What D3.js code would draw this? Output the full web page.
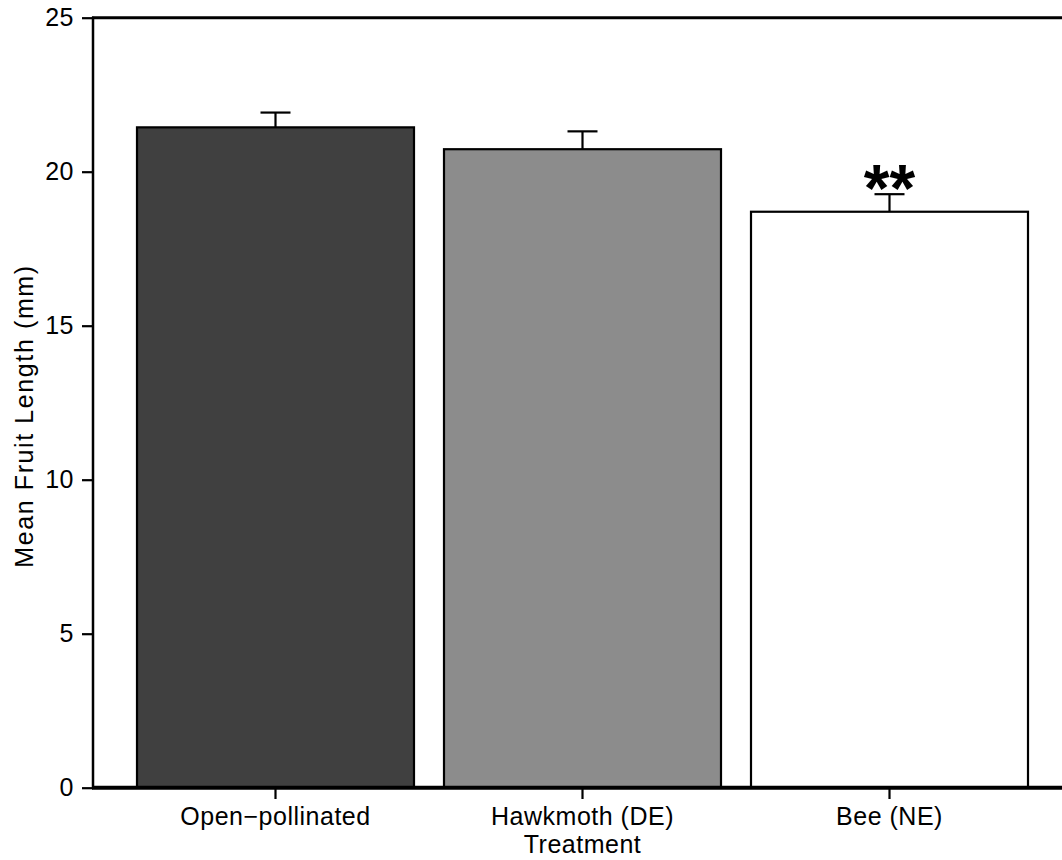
<!DOCTYPE html>
<html>
<head>
<meta charset="utf-8">
<script src="https://cdn.jsdelivr.net/npm/d3@7"></script>
<style>
  body { margin: 0; background: #fff; }
  text { font-family: "Liberation Sans", Arial, sans-serif; }
</style>
</head>
<body>
<div id="chart"></div>
<script>
var w = 1062, h = 860;

// Chart values
var treatments = ["Open\u2212pollinated", "Hawkmoth (DE)", "Bee (NE)"];
var means = [21.44, 20.73, 18.70];
var errors = [0.48, 0.58, 0.57];
var fills = ["#404040", "#8c8c8c", "#ffffff"];
var signif = ["", "", "**"];
var yTicks = [0, 5, 10, 15, 20, 25];

// Scales
var y = d3.scaleLinear()
  .domain([0, 25])
  .range([787.7, 17.7]);

var x = d3.scaleBand()
  .domain(treatments)
  .range([137, 1028])
  .paddingInner(30 / 307)
  .paddingOuter(0);

var svg = d3.select("#chart")
  .append("svg")
  .attr("width", w)
  .attr("height", h);

// Bars
svg.selectAll("rect.bar")
  .data(treatments)
  .enter()
  .append("rect")
  .attr("class", "bar")
  .attr("x", function(d) { return x(d); })
  .attr("y", function(d, i) { return y(means[i]); })
  .attr("width", x.bandwidth())
  .attr("height", function(d, i) { return y(0) - y(means[i]); })
  .attr("fill", function(d, i) { return fills[i]; })
  .attr("stroke", "#000")
  .attr("stroke-width", 2.2);

// Error bars (upper only)
var eb = svg.selectAll("g.err")
  .data(treatments)
  .enter()
  .append("g")
  .attr("class", "err");

eb.append("line")
  .attr("x1", function(d) { return x(d) + x.bandwidth() / 2; })
  .attr("x2", function(d) { return x(d) + x.bandwidth() / 2; })
  .attr("y1", function(d, i) { return y(means[i]); })
  .attr("y2", function(d, i) { return y(means[i] + errors[i]); })
  .attr("stroke", "#000")
  .attr("stroke-width", 2.2);

eb.append("line")
  .attr("x1", function(d) { return x(d) + x.bandwidth() / 2 - 15; })
  .attr("x2", function(d) { return x(d) + x.bandwidth() / 2 + 15; })
  .attr("y1", function(d, i) { return y(means[i] + errors[i]); })
  .attr("y2", function(d, i) { return y(means[i] + errors[i]); })
  .attr("stroke", "#000")
  .attr("stroke-width", 2.2);

// Significance stars
svg.selectAll("text.sig")
  .data(treatments)
  .enter()
  .append("text")
  .attr("class", "sig")
  .attr("x", function(d) { return x(d) + x.bandwidth() / 2; })
  .attr("y", function(d, i) { return y(means[i] + errors[i]) + 17; })
  .attr("text-anchor", "middle")
  .attr("font-size", 66)
  .attr("font-weight", "bold")
  .text(function(d, i) { return signif[i]; });

// Y axis ticks
var yAxis = d3.axisLeft(y)
  .tickValues(yTicks)
  .tickSize(11)
  .tickPadding(8);

var gy = svg.append("g")
  .attr("transform", "translate(93,0)")
  .call(yAxis);
gy.select(".domain").remove();
gy.selectAll(".tick line").attr("stroke-width", 2.2);
gy.selectAll(".tick text")
  .attr("font-size", 25)
  .attr("letter-spacing", "0.5px")
  .attr("font-family", "Liberation Sans, Arial, sans-serif")
  .attr("fill", "#000");

// X axis ticks
var xAxis = d3.axisBottom(x)
  .tickSize(10)
  .tickPadding(8);

var gx = svg.append("g")
  .attr("transform", "translate(0,789)")
  .call(xAxis);
gx.select(".domain").remove();
gx.selectAll(".tick line").attr("stroke-width", 2.2);
gx.selectAll(".tick text")
  .attr("font-size", 25)
  .attr("letter-spacing", "0.5px")
  .attr("font-family", "Liberation Sans, Arial, sans-serif")
  .attr("fill", "#000");

// Frame: left, top, thick bottom
svg.append("line")
  .attr("x1", 93).attr("x2", 93)
  .attr("y1", y(25) - 1).attr("y2", y(0))
  .attr("stroke", "#000").attr("stroke-width", 2.5);

svg.append("line")
  .attr("x1", 92).attr("x2", w)
  .attr("y1", y(25)).attr("y2", y(25))
  .attr("stroke", "#000").attr("stroke-width", 3);

svg.append("line")
  .attr("x1", 92).attr("x2", w)
  .attr("y1", y(0)).attr("y2", y(0))
  .attr("stroke", "#000").attr("stroke-width", 4);

// Axis titles
svg.append("text")
  .attr("transform", "translate(33,416) rotate(-90)")
  .attr("text-anchor", "middle")
  .attr("font-size", 25)
  .attr("letter-spacing", "1.6px")
  .text("Mean Fruit Length (mm)");

svg.append("text")
  .attr("x", x(treatments[1]) + x.bandwidth() / 2)
  .attr("y", 853)
  .attr("text-anchor", "middle")
  .attr("font-size", 25)
  .attr("letter-spacing", "0.5px")
  .text("Treatment");
</script>
</body>
</html>
